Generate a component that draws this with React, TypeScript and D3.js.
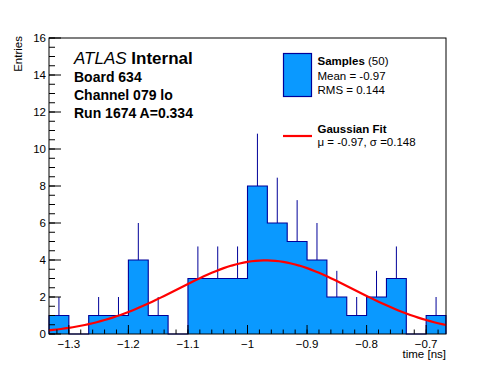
import React from 'react';
import * as d3 from 'd3';

// histogram: 20 bins over the visible range
const binLow = -1.3333;
const binHigh = -0.6667;
const counts = [1, 0, 1, 1, 4, 1, 0, 3, 3, 3, 8, 6, 5, 4, 2, 1, 2, 3, 0, 1];

// gaussian fit parameters (from the legend)
const fitMu = -0.97;
const fitSigma = 0.148;
const fitAmp = 3.98;

const xTicks = [-1.3, -1.2, -1.1, -1.0, -0.9, -0.8, -0.7];
const xTickLabels = ['\u22121.3', '\u22121.2', '\u22121.1', '\u22121', '\u22120.9', '\u22120.8', '\u22120.7'];
const yTicks = [0, 2, 4, 6, 8, 10, 12, 14, 16];

const infoLines = ['Board 634', 'Channel 079 lo', 'Run 1674 A=0.334'];
const legendStats = ['Mean = -0.97', 'RMS = 0.144'];

const W = 496;
const H = 372;
const m = { left: 49, right: 446, top: 38, bottom: 334 };
const FONT = 'Liberation Sans, Arial, Helvetica, sans-serif';
const FILL = '#0a99ff';
const LINE = '#000099';

export default function App() {
  const x = d3.scaleLinear().domain([binLow, binHigh]).range([m.left, m.right]);
  const y = d3.scaleLinear().domain([0, 16]).range([m.bottom, m.top]);

  const nb = counts.length;
  const bw = (binHigh - binLow) / nb;
  const bins = counts.map((n, i) => ({ x0: binLow + i * bw, x1: binLow + (i + 1) * bw, n }));

  const pts: [number, number][] = [[binLow, 0]];
  bins.forEach(b => { pts.push([b.x0, b.n]); pts.push([b.x1, b.n]); });
  pts.push([binHigh, 0]);

  const area = d3.area<[number, number]>().x(d => x(d[0])).y0(y(0)).y1(d => y(d[1]));
  const outline = d3.line<[number, number]>().x(d => x(d[0])).y(d => y(d[1]));

  const fitPts: [number, number][] = d3.range(0, 101).map(i => {
    const t = binLow + (i / 100) * (binHigh - binLow);
    return [t, fitAmp * Math.exp(-0.5 * ((t - fitMu) / fitSigma) ** 2)];
  });
  const fitLine = d3.line<[number, number]>().x(d => x(d[0])).y(d => y(d[1]));

  const xMinor = d3.range(-1.32, -0.66, 0.02).filter(v => v >= binLow && v <= binHigh);
  const yMinor = d3.range(0, 16.01, 0.5);

  return (
    <svg width={W} height={H} style={{ position: 'absolute', left: 0, top: 0, background: '#fff' }} fontFamily={FONT}>
      {/* histogram */}
      <path d={area(pts) || ''} fill={FILL} stroke="none" />
      {bins.filter(b => b.n > 0).map((b, i) => (
        <line key={i} x1={x((b.x0 + b.x1) / 2)} x2={x((b.x0 + b.x1) / 2)}
          y1={y(b.n)} y2={y(b.n + Math.sqrt(b.n))} stroke={LINE} strokeWidth={1} />
      ))}
      <path d={outline(pts) || ''} fill="none" stroke={LINE} strokeWidth={1.1} />

      {/* fit */}
      <path d={fitLine(fitPts) || ''} fill="none" stroke="#ff0000" strokeWidth={2.2} />

      {/* frame */}
      <rect x={m.left} y={m.top} width={m.right - m.left} height={m.bottom - m.top} fill="none" stroke="#000" strokeWidth={1} />

      {/* x axis ticks */}
      {xMinor.map((v, i) => (
        <line key={'xm' + i} x1={x(v)} x2={x(v)} y1={m.bottom} y2={m.bottom - 4.5} stroke="#000" />
      ))}
      {xTicks.map((v, i) => (
        <g key={'xt' + i}>
          <line x1={x(v)} x2={x(v)} y1={m.bottom} y2={m.bottom - 9} stroke="#000" />
          <text x={x(v)} y={347.5} fontSize={11.5} textAnchor="middle">{xTickLabels[i]}</text>
        </g>
      ))}
      <text x={m.right} y={358} fontSize={11.5} textAnchor="end">time [ns]</text>

      {/* y axis ticks */}
      {yMinor.map((v, i) => (
        <line key={'ym' + i} x1={m.left} x2={m.left + 6} y1={y(v)} y2={y(v)} stroke="#000" />
      ))}
      {yTicks.map((v, i) => (
        <g key={'yt' + i}>
          <line x1={m.left} x2={m.left + 12} y1={y(v)} y2={y(v)} stroke="#000" />
          <text x={46} y={y(v) + 4} fontSize={11.5} textAnchor="end">{v}</text>
        </g>
      ))}
      <text transform={`translate(22,36) rotate(-90)`} fontSize={11.5} textAnchor="end">Entries</text>

      {/* labels */}
      <text x={74} y={63.5} fontSize={17}>
        <tspan fontStyle="italic">ATLAS</tspan>
        <tspan fontWeight="bold"> Internal</tspan>
      </text>
      {infoLines.map((s, i) => (
        <text key={s} x={74} y={81.5 + i * 18.2} fontSize={14} fontWeight="bold">{s}</text>
      ))}

      {/* legend */}
      <rect x={283.5} y={53.5} width={28} height={43} fill={FILL} stroke={LINE} strokeWidth={1.2} />
      <text x={317.5} y={65} fontSize={11.5}>
        <tspan fontWeight="bold">Samples</tspan>
        <tspan> (50)</tspan>
      </text>
      {legendStats.map((s, i) => (
        <text key={s} x={317.5} y={79.5 + i * 14} fontSize={11.5}>{s}</text>
      ))}
      <line x1={283} x2={312} y1={136} y2={136} stroke="#ff0000" strokeWidth={2.2} />
      <text x={317.5} y={132.5} fontSize={11.5} fontWeight="bold">Gaussian Fit</text>
      <text x={317.5} y={145.5} fontSize={11.5}>μ = -0.97, σ =0.148</text>
    </svg>
  );
}
